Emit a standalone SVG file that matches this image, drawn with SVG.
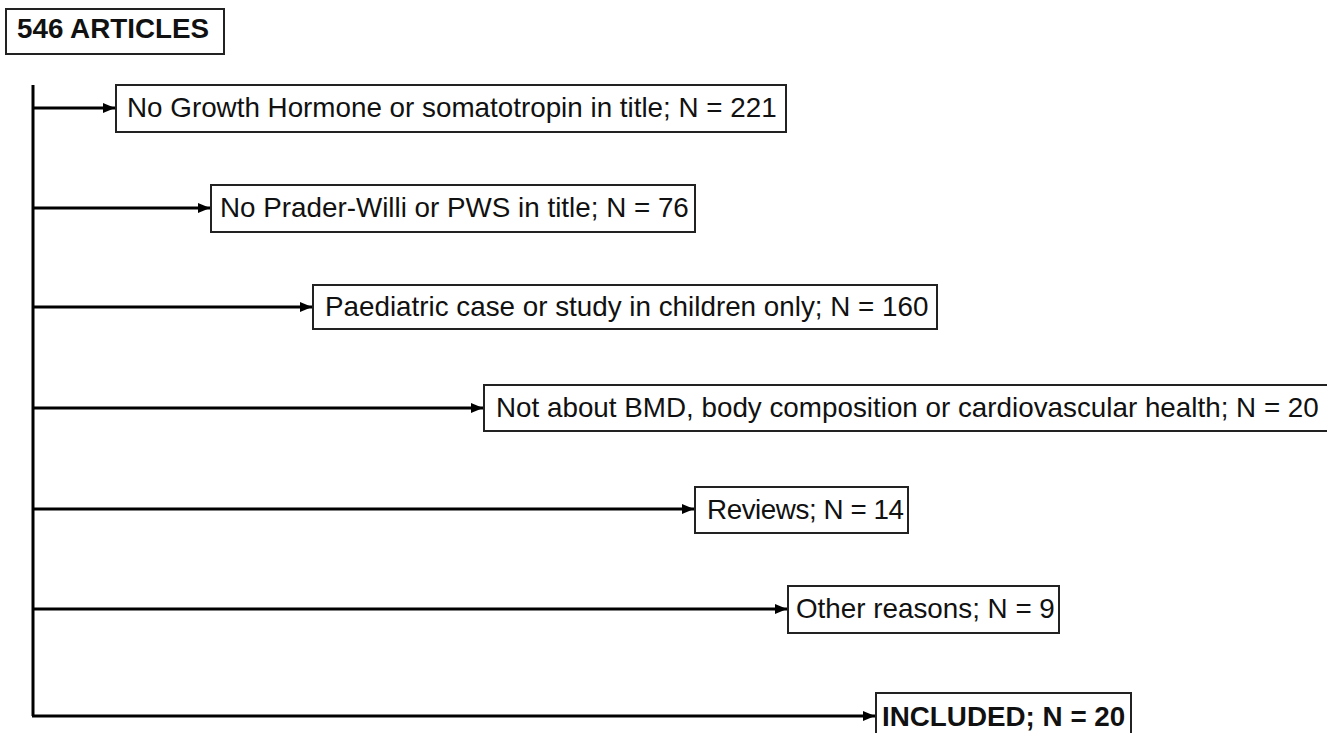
<svg xmlns="http://www.w3.org/2000/svg" width="1327" height="733" viewBox="0 0 1327 733">
<style>
.box{fill:#fff;stroke:#222;stroke-width:2}
.t{font-family:"Liberation Sans",Arial,sans-serif;font-size:27.8px;fill:#111}
.b{font-weight:bold}
.c{fill:none;stroke:#000;stroke-width:3}
</style>
<defs>
<marker id="ah" markerWidth="14" markerHeight="14" refX="12" refY="7" orient="auto" markerUnits="userSpaceOnUse">
<path d="M0,2 L12,7 L0,12 Z" fill="#000"/>
</marker>
</defs>
<rect width="1327" height="733" fill="#fff"/>
<g id="connectors">
<path class="c" d="M33,85 V716"/>
<path class="c" d="M32,108 H115" marker-end="url(#ah)"/>
<path class="c" d="M32,208 H210" marker-end="url(#ah)"/>
<path class="c" d="M32,307 H312" marker-end="url(#ah)"/>
<path class="c" d="M32,408 H483" marker-end="url(#ah)"/>
<path class="c" d="M32,509 H694" marker-end="url(#ah)"/>
<path class="c" d="M32,609 H787" marker-end="url(#ah)"/>
<path class="c" d="M32,716 H875" marker-end="url(#ah)"/>
</g>
<g id="n0"><rect class="box" x="6" y="9" width="218" height="45"/><text class="t b" x="17" y="38" font-size="27.5">546 ARTICLES</text></g>
<g id="n1"><rect class="box" x="116" y="85" width="670" height="47"/><text class="t" x="127" y="117">No Growth Hormone or somatotropin in title; N = 221</text></g>
<g id="n2"><rect class="box" x="211" y="185" width="484" height="47"/><text class="t" x="220" y="217">No Prader-Willi or PWS in title; N = 76</text></g>
<g id="n3"><rect class="box" x="313" y="285" width="624" height="44"/><text class="t" x="325" y="316">Paediatric case or study in children only; N = 160</text></g>
<g id="n4"><rect class="box" x="484" y="385" width="860" height="46"/><text class="t" x="496" y="417">Not about BMD, body composition or cardiovascular health; N = 20</text></g>
<g id="n5"><rect class="box" x="695" y="487" width="213" height="46"/><text class="t" x="707" y="519" textLength="197" lengthAdjust="spacing">Reviews; N = 14</text></g>
<g id="n6"><rect class="box" x="788" y="586" width="271" height="47"/><text class="t" x="796" y="618">Other reasons; N = 9</text></g>
<g id="n7"><rect class="box" x="876" y="693" width="255" height="60"/><text class="t b" x="882" y="726">INCLUDED; N = 20</text></g>
</svg>
